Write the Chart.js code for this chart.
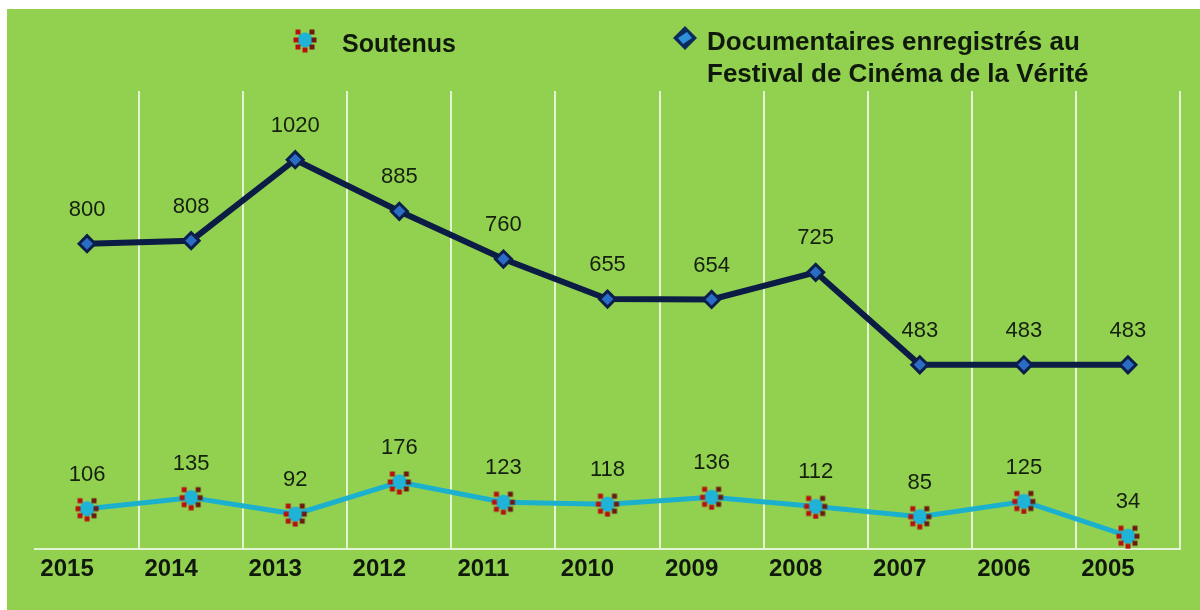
<!DOCTYPE html>
<html>
<head>
  <meta charset="UTF-8">
  <title>Documentaires</title>
  <style>
    body { margin: 0; background: #ffffff; }
    .panel {
      position: absolute;
      left: 7px;
      top: 9px;
      width: 1193px;
      height: 601px;
      background: #92d050;
    }
  </style>
  <script src="https://cdn.jsdelivr.net/npm/chart.js@4.4.1/dist/chart.umd.min.js"></script>
</head>
<body>
  <div class="panel"><canvas id="myChart" width="1193" height="601"></canvas></div>

  <script>
    var years = ["2015", "2014", "2013", "2012", "2011", "2010", "2009", "2008", "2007", "2006", "2005"];
    var soutenus = [106, 135, 92, 176, 123, 118, 136, 112, 85, 125, 34];
    var documentaires = [800, 808, 1020, 885, 760, 655, 654, 725, 483, 483, 483];
    var labelSoutenus = "Soutenus";
    var labelDocs = ["Documentaires enregistrés au", "Festival de Cinéma de la Vérité"];

    // marker for "Soutenus": cyan core with red dots round it
    function makeMarker() {
      var c = document.createElement("canvas");
      c.width = 26; c.height = 26;
      var g = c.getContext("2d");
      g.fillStyle = "#1fb3d8";
      g.beginPath();
      g.arc(13, 13, 7.5, 0, Math.PI * 2);
      g.fill();
      var dots = [[6, 5], [20, 5], [4, 13], [22, 13], [6, 20], [20, 20], [13, 23]];
      for (var i = 0; i < dots.length; i++) {
        g.fillStyle = i % 2 ? "#6b1a10" : "#b5120f";
        g.fillRect(dots[i][0] - 2.5, dots[i][1] - 2.5, 5, 5);
      }
      return c;
    }
    var soutenusMarker = makeMarker();

    var valueLabels = {
      id: "valueLabels",
      afterDatasetsDraw: function (chart) {
        var ctx = chart.ctx;
        ctx.save();
        ctx.font = "22px 'Liberation Sans', Arial, sans-serif";
        ctx.fillStyle = "#15200f";
        ctx.textAlign = "center";
        ctx.textBaseline = "middle";
        chart.data.datasets.forEach(function (ds, di) {
          var meta = chart.getDatasetMeta(di);
          meta.data.forEach(function (pt, i) {
            ctx.fillText(String(ds.data[i]), pt.x, pt.y - 34);
          });
        });
        ctx.restore();
      }
    };

    var topLegend = {
      id: "topLegend",
      afterDraw: function (chart) {
        var ctx = chart.ctx;
        ctx.save();
        // Soutenus
        ctx.drawImage(soutenusMarker, 298 - 13, 31 - 13);
        ctx.font = "bold 25px 'Liberation Sans', Arial, sans-serif";
        ctx.fillStyle = "#101a0c";
        ctx.textAlign = "left";
        ctx.textBaseline = "middle";
        ctx.fillText(labelSoutenus, 335, 36);
        // Documentaires
        var x = 678, y = 29;
        ctx.beginPath();
        ctx.moveTo(x, y - 12); ctx.lineTo(x + 12, y); ctx.lineTo(x, y + 12); ctx.lineTo(x - 12, y);
        ctx.closePath();
        ctx.fillStyle = "#0d2a5c";
        ctx.fill();
        ctx.beginPath();
        ctx.moveTo(x + 2, y - 6); ctx.lineTo(x + 7, y); ctx.lineTo(x - 2, y + 6); ctx.lineTo(x - 7, y);
        ctx.closePath();
        ctx.fillStyle = "#2f8fd8";
        ctx.fill();
        ctx.font = "bold 26px 'Liberation Sans', Arial, sans-serif";
        ctx.fillStyle = "#101a0c";
        ctx.fillText(labelDocs[0], 700, 34);
        ctx.fillText(labelDocs[1], 700, 66);
        ctx.restore();
      }
    };

    new Chart("myChart", {
      type: "line",
      data: {
        labels: years,
        datasets: [{
          label: labelSoutenus,
          data: soutenus,
          borderColor: "#1cb0cf",
          borderWidth: 5,
          pointStyle: soutenusMarker,
          pointRadius: 12,
          tension: 0
        }, {
          label: labelDocs.join(" "),
          data: documentaires,
          borderColor: "#0c1d45",
          borderWidth: 6,
          pointStyle: "rectRot",
          pointRadius: 8,
          pointBackgroundColor: "#2b6cc4",
          pointBorderColor: "#0b1f4a",
          pointBorderWidth: 3,
          tension: 0
        }]
      },
      options: {
        responsive: false,
        animation: false,
        layout: { padding: { top: 82, left: 28, right: 20, bottom: 20 } },
        plugins: {
          legend: { display: false },
          tooltip: { enabled: false }
        },
        scales: {
          x: {
            offset: true,
            grid: {
              offset: true,
              drawTicks: false,
              lineWidth: 2,
              color: function (c) { return c.index === 0 ? "rgba(0,0,0,0)" : "rgba(255,255,255,0.75)"; }
            },
            border: { color: "rgba(255,255,255,0.75)", width: 2 },
            ticks: {
              padding: 6,
              labelOffset: -20,
              color: "#101a0c",
              font: { family: "'Liberation Sans', Arial, sans-serif", size: 24, weight: "bold" }
            }
          },
          y: {
            display: false,
            min: 0,
            max: 1200
          }
        }
      },
      plugins: [valueLabels, topLegend]
    });
  </script>
</body>
</html>
